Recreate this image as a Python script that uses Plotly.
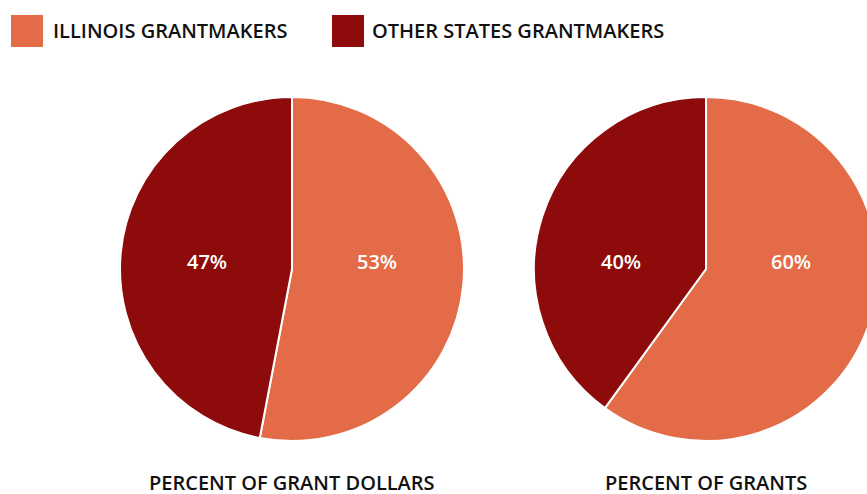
import math

import plotly.graph_objects as go

categories = ["ILLINOIS GRANTMAKERS", "OTHER STATES GRANTMAKERS"]
colors = ["#E36B47", "#8E0B0B"]
grant_dollars = [53, 47]
grant_counts = [60, 40]
pie_titles = ["PERCENT OF GRANT DOLLARS", "PERCENT OF GRANTS"]

W, H = 880, 494
FONT = "Open Sans"


def px_x(v):
    return v / W


def px_y(v):
    return 1 - v / H


fig = go.Figure()

# pie centers in pixels (right one runs past the window edge like the original)
centers = [292, 706]
radius = 172
cy = 269

for values, title, cx in zip([grant_dollars, grant_counts], pie_titles, centers):
    fig.add_trace(go.Pie(
        labels=categories,
        values=values,
        sort=False,
        direction="clockwise",
        rotation=0,
        marker=dict(colors=colors, line=dict(color="white", width=2)),
        textinfo="none",
        hoverinfo="label+percent",
        showlegend=False,
        domain=dict(x=[px_x(cx - radius), px_x(cx + radius)],
                    y=[px_y(cy + radius), px_y(cy - radius)]),
    ))
    # percent labels sit level, on the side of each slice
    total = sum(values)
    start = 0
    for v in values:
        mid = (start + v / 2) / total * 2 * math.pi
        start += v
        side = 1 if math.sin(mid) >= 0 else -1
        fig.add_annotation(
            x=px_x(cx + side * 85), y=px_y(261), xref="paper", yref="paper",
            text="{0}%".format(v), showarrow=False, xanchor="center", yanchor="middle",
            font=dict(family=FONT, size=20, color="white", weight=600),
        )
    fig.add_annotation(
        x=px_x(cx), y=px_y(482), xref="paper", yref="paper",
        text=title, showarrow=False, xanchor="center", yanchor="middle",
        borderpad=0,
        font=dict(family=FONT, size=20, color="#111111", weight=600),
    )

# legend drawn by hand so the swatches can be big squares
legend_x = [11, 332]
legend_text_x = [51, 370]
for name, color, lx, tx in zip(categories, colors, legend_x, legend_text_x):
    fig.add_shape(
        type="rect", xref="paper", yref="paper",
        x0=px_x(lx), x1=px_x(lx + 32), y0=px_y(47), y1=px_y(15),
        fillcolor=color, line=dict(width=0),
    )
    fig.add_annotation(
        x=px_x(tx), y=px_y(31), xref="paper", yref="paper",
        text=name, showarrow=False, xanchor="left", yanchor="middle",
        font=dict(family=FONT, size=20, color="#111111", weight=600),
    )

fig.update_layout(
    width=W, height=H,
    margin=dict(l=0, r=0, t=0, b=0),
    paper_bgcolor="white",
    plot_bgcolor="white",
)

fig.write_html(
    "out.html",
    config={"displayModeBar": False},
    post_script="document.body.style.overflow='hidden';document.body.style.margin='0';",
)
